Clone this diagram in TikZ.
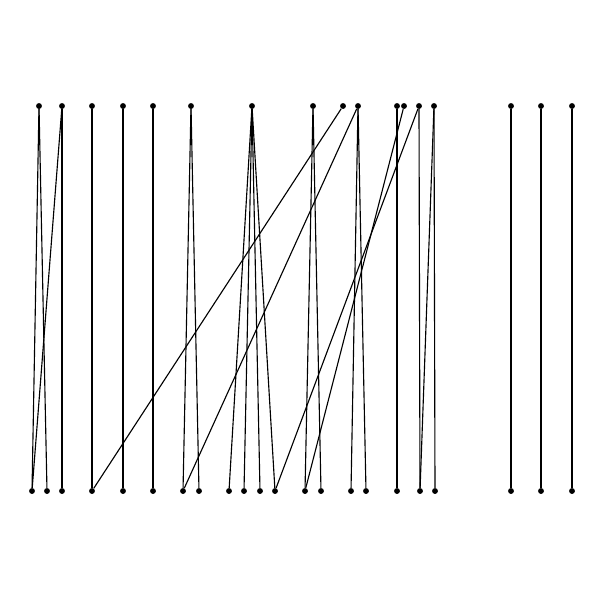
\documentclass[tikz,border=0pt]{standalone}
\usetikzlibrary{positioning}
\begin{document}
\begin{tikzpicture}[x=0.025cm, y=-0.025cm,
  dot/.style={circle, fill=black, inner sep=0pt, minimum size=4.2pt},
  edge/.style={black, line width=0.8pt}]
\useasboundingbox (0,0) rectangle (600,600);
% upper row
\foreach \x [count=\i] in {39,62,92,123,153,191,252,313,343,358,397,404,419,434,511,541,572}
  \node[dot] (t\i) at (\x,106) {};
% lower row
\foreach \x [count=\i] in {32,47,62,92,123,153,183,199,229,244,260,275,305,321,351,366,397,420,435,511,541,572}
  \node[dot] (b\i) at (\x,491) {};
% links
\foreach \a/\b in {1/1,1/2,2/1,2/3,3/4,4/5,5/6,6/7,6/8,7/9,7/10,7/11,7/12,8/13,8/14,9/4,10/7,10/15,10/16,11/17,12/13,13/12,13/18,14/18,14/19,15/20,16/21,17/22}
  \draw[edge] (t\a) -- (b\b);
\end{tikzpicture}
\end{document}
